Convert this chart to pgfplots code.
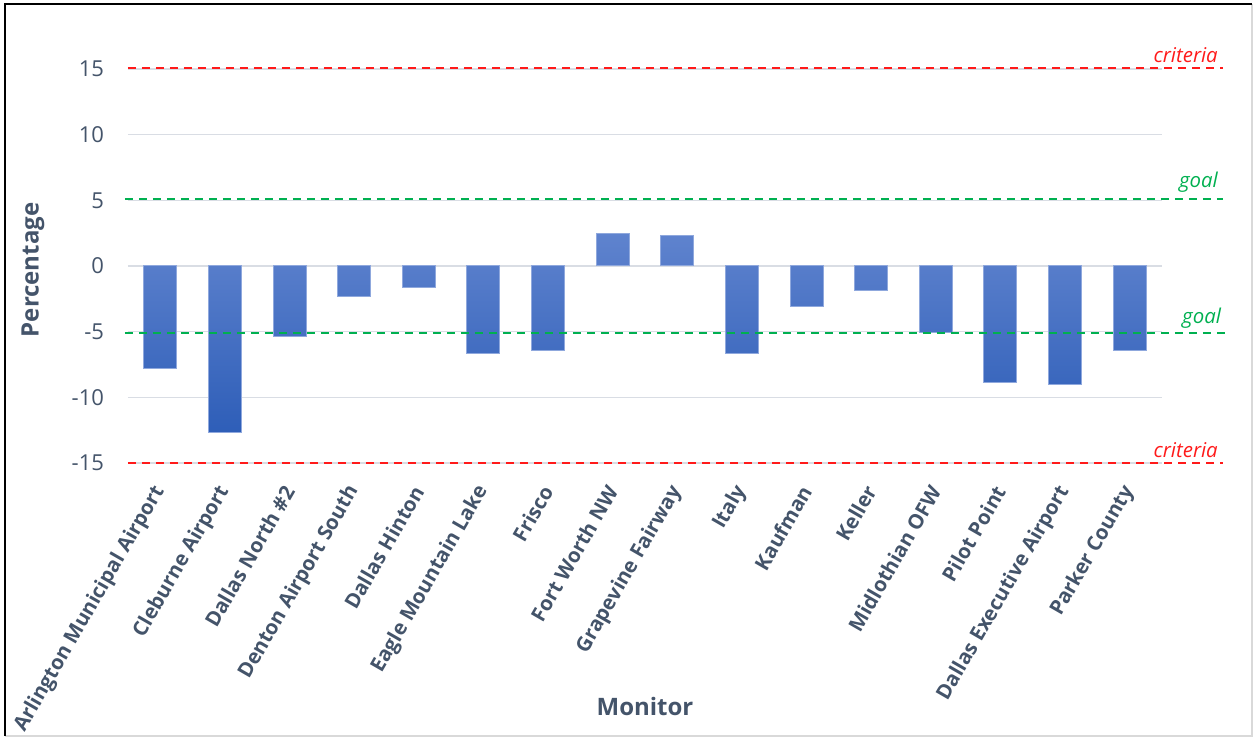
\documentclass[border=0pt]{standalone}
\usepackage{pgfplots}
\pgfplotsset{compat=1.18}
\usepackage{fontspec}
\setmainfont{Open Sans}
\definecolor{slate}{HTML}{44546A}
\definecolor{gridc}{HTML}{D9DDE4}
\definecolor{bartop}{HTML}{5F83CE}
\definecolor{barbot}{HTML}{2E5EB8}
\definecolor{baredge}{HTML}{8FA8DD}
\definecolor{critred}{HTML}{FF1A1A}
\definecolor{goalgreen}{HTML}{00B050}
\begin{document}
\begin{tikzpicture}
\useasboundingbox (0,0) rectangle (627.5pt,369pt);
\draw[gray!30, line width=1pt] (2.5pt,1pt) -- (626pt,1pt) -- (626pt,367pt);
\draw[black, line width=1pt] (2.5pt,1pt) -- (2.5pt,367pt) -- (626pt,367pt);
\begin{axis}[
  at={(64pt,137.5pt)}, anchor=south west,
  scale only axis, width=517pt, height=197pt,
  xmin=-0.5, xmax=15.5, ymin=-15, ymax=15,
  ytick={-15,-10,...,15},
  xtick={0,...,15},
  xticklabels={Arlington Municipal Airport, Cleburne Airport, Dallas North \#2, Denton Airport South, Dallas Hinton, Eagle Mountain Lake, Frisco, Fort Worth NW, Grapevine Fairway, Italy, Kaufman, Keller, Midlothian OFW, Pilot Point, Dallas Executive Airport, Parker County},
  xticklabel style={rotate=60, anchor=east, font=\fontsize{10.2}{11}\selectfont\bfseries, text=slate, inner sep=1pt, xshift=-9.6pt, yshift=-6pt},
  yticklabel style={font=\fontsize{11}{12}\selectfont, text=slate, xshift=-8.5pt},
  /pgf/number format/assume math mode=true,
  ymajorgrids, grid style={color=gridc, line width=0.8pt},
  axis line style={draw=none},
  major tick length=0pt,
  clip=false,
  xlabel={Monitor}, ylabel={Percentage},
  xlabel style={at={(rel axis cs:0.5,-0.617)}, anchor=center, font=\fontsize{12}{14}\selectfont\bfseries, text=slate},
  ylabel style={at={(rel axis cs:-0.0919,0.49)}, anchor=center, font=\fontsize{12}{14}\selectfont\bfseries, text=slate},
]
\addplot[ybar, bar width=16.5pt, top color=bartop, bottom color=barbot, draw=baredge, line width=0.5pt] coordinates {
(0,-7.8) (1,-12.7) (2,-5.4) (3,-2.3) (4,-1.6) (5,-6.7) (6,-6.4) (7,2.5)
(8,2.3) (9,-6.7) (10,-3.05) (11,-1.9) (12,-5.1) (13,-8.9) (14,-9.0) (15,-6.4)};
\addplot[critred, line width=1pt, dash pattern=on 4pt off 3pt] coordinates {(-0.5,15.1) (16.45,15.1)};
\addplot[critred, line width=1pt, dash pattern=on 4pt off 3pt] coordinates {(-0.5,-15) (16.45,-15)};
\addplot[goalgreen, line width=1pt, dash pattern=on 4pt off 3pt] coordinates {(-0.55,5.1) (16.45,5.1)};
\addplot[goalgreen, line width=1pt, dash pattern=on 4pt off 3pt] coordinates {(-0.55,-5.1) (16.5,-5.1)};
\node[anchor=south east, text=critred, font=\itshape\fontsize{10.2}{12}\selectfont, inner sep=1pt] at (axis cs:16.4,15.3) {criteria};
\node[anchor=south east, text=critred, font=\itshape\fontsize{10.2}{12}\selectfont, inner sep=1pt] at (axis cs:16.4,-14.8) {criteria};
\node[anchor=south east, text=goalgreen, font=\itshape\fontsize{10.2}{12}\selectfont, inner sep=1pt] at (axis cs:16.4,5.4) {goal};
\node[anchor=south east, text=goalgreen, font=\itshape\fontsize{10.2}{12}\selectfont, inner sep=1pt] at (axis cs:16.45,-4.9) {goal};
\end{axis}
\end{tikzpicture}
\end{document}
